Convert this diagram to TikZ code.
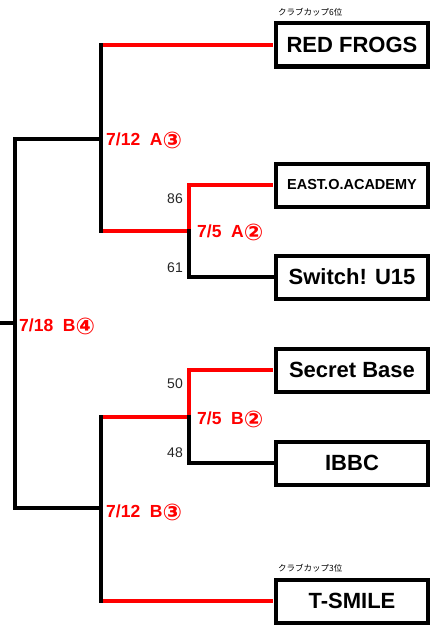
\documentclass[tikz,border=0pt]{standalone}
\usepackage{fontspec}
\setmainfont{Liberation Sans}
\newfontfamily\jpfont{Noto Sans CJK JP}
\newfontfamily\circfont{DejaVu Sans}
\usetikzlibrary{positioning}
\newcommand{\circnum}[1]{\raisebox{-3.5pt}{\circfont\bfseries\fontsize{23}{23}\selectfont #1}}
\tikzset{%
  % Specifications for style of nodes:
            team/.style = {rectangle, draw=black, line width=4pt, fill=white,
                           minimum width=152pt, minimum height=43pt, inner sep=0pt,
                           font=\bfseries\fontsize{22}{22}\selectfont},
            game/.style = {anchor=base west, inner sep=0pt, text=red,
                           font=\bfseries\fontsize{17.5}{17.5}\selectfont},
           score/.style = {anchor=base east, inner sep=0pt, text=black!85,
                           font=\fontsize{14}{14}\selectfont},
            note/.style = {anchor=west, inner sep=0pt,
                           font=\jpfont\fontsize{8.5}{8.5}\selectfont},
  % Specifications for style of lines:
             win/.style = {draw=red, line width=4pt, line cap=butt},
            lose/.style = {draw=black, line width=4pt, line cap=rect},
}

\begin{document}
\begin{tikzpicture}[x=1pt, y=-1pt]
  \useasboundingbox (0,0) rectangle (437,626);

  \node(redfrogs)     [team] at (352,45)  {RED FROGS};
  \node(eastacademy)  [team, font=\bfseries\fontsize{14.5}{14.5}\selectfont] at (352,185) {EAST.O.ACADEMY};
  \node(switch)       [team] at (352,277) {Switch! U15};
  \node(secretbase)   [team] at (352,370) {Secret Base};
  \node(ibbc)         [team] at (352,463) {IBBC};
  \node(tsmile)       [team] at (352,601) {T-SMILE};

  \node(noteA)        [note] at (278,12)  {クラブカップ6位};
  \node(noteB)        [note] at (278,568) {クラブカップ3位};

  \coordinate (start) at (0,323);
  \coordinate (final) at (15,323);
  \coordinate (semiA) at (101,139);
  \coordinate (semiB) at (101,508);
  \coordinate (qfA)   at (189,231);
  \coordinate (qfB)   at (189,417);

  % winners in red
  \draw[win, shorten >=1pt] (redfrogs.west -| semiA) -- (redfrogs.west);
  \draw[win, shorten >=1pt] (qfA -| semiA) -- (qfA) |- (eastacademy.west);
  \draw[win, shorten >=1pt] (qfB -| semiB) -- (qfB) |- (secretbase.west);
  \draw[win, shorten >=1pt] (tsmile.west -| semiB) -- (tsmile.west);

  % the rest in black
  \draw[lose] (start) -- (final);
  \draw[lose] (semiA) -| (final) |- (semiB);
  \draw[lose] (redfrogs.west -| semiA) -- (qfA -| semiA);
  \draw[lose] (qfB -| semiB) -- (tsmile.west -| semiB);
  \draw[lose] (qfA) |- (switch.west);
  \draw[lose] (qfB) |- (ibbc.west);

  % game labels and scores
  \node(gameA3)  [game] at (106,145) {7/12\ \ A\circnum{③}};
  \node(gameA2)  [game] at (197,237) {7/5\ \ A\circnum{②}};
  \node(gameB4)  [game] at (19,331)  {7/18\ \ B\circnum{④}};
  \node(gameB2)  [game] at (197,424) {7/5\ \ B\circnum{②}};
  \node(gameB3)  [game] at (106,517) {7/12\ \ B\circnum{③}};

  \node(scoreA1) [score] at (183,203) {86};
  \node(scoreA2) [score] at (183,272) {61};
  \node(scoreB1) [score] at (183,388) {50};
  \node(scoreB2) [score] at (183,457) {48};
\end{tikzpicture}
\end{document}
